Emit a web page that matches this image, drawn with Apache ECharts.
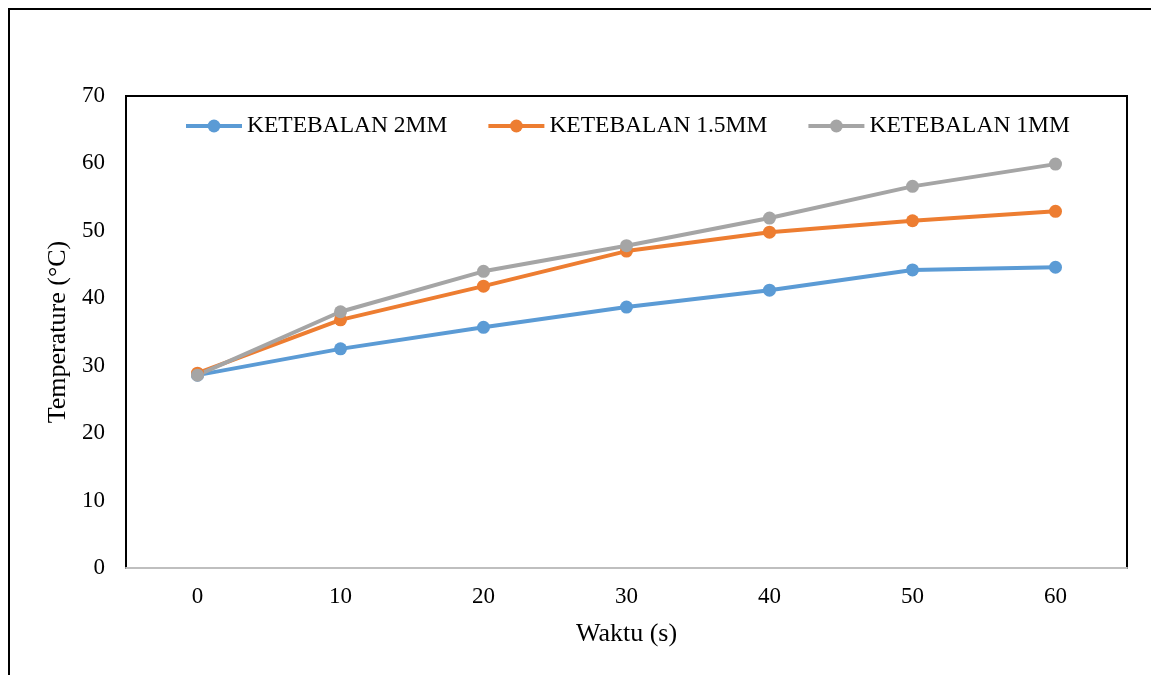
<!DOCTYPE html>
<html>
<head>
<meta charset="utf-8">
<script src="https://cdn.jsdelivr.net/npm/echarts@6/dist/echarts.min.js"></script>
<style>
html,body{margin:0;padding:0;background:#fff;}
#c{width:1151px;height:675px;}
</style>
</head>
<body>
<div id="c"></div>
<script>
var categories = ['0','10','20','30','40','50','60'];
var seriesNames = ['KETEBALAN 2MM','KETEBALAN 1.5MM','KETEBALAN 1MM'];
var tebal2mm = [28.6, 32.5, 35.7, 38.7, 41.2, 44.2, 44.6];
var tebal15mm = [28.9, 36.8, 41.8, 47.0, 49.8, 51.5, 52.9];
var tebal1mm = [28.6, 38.0, 44.0, 47.8, 51.9, 56.6, 59.9];
var yTicks = {min: 0, max: 70, interval: 10};

var colors = ['#5B9BD5', '#ED7D31', '#A5A5A5'];
var font = '"Liberation Serif", "Times New Roman", serif';

function mk(name, data, color) {
  return {
    name: name, type: 'line', data: data,
    symbol: 'circle', symbolSize: 13,
    lineStyle: {width: 4, color: color},
    itemStyle: {color: color},
    emphasis: {disabled: true},
    animation: false
  };
}

var chart = echarts.init(document.getElementById('c'), null, {renderer: 'canvas'});
chart.setOption({
  animation: false,
  color: colors,
  graphic: [{
    type: 'rect', shape: {x: 9, y: 9, width: 1160, height: 700},
    style: {fill: 'none', stroke: '#000', lineWidth: 2}, z: -10
  }],
  grid: {left: 126, top: 96, right: 24, bottom: 107, show: true, borderColor: '#000', borderWidth: 2, backgroundColor: 'transparent'},
  legend: {
    left: 184, top: 114, padding: 0, itemGap: 39, itemWidth: 56, itemHeight: 16,
    lineStyle: {width: 4},
    textStyle: {fontFamily: font, fontSize: 23.5, color: '#000', padding: [0, 0, 0, 0]},
    data: seriesNames
  },
  xAxis: {
    type: 'category', data: categories, boundaryGap: true,
    axisLine: {show: true, lineStyle: {color: '#BFBFBF', width: 2}},
    axisTick: {show: false},
    axisLabel: {fontFamily: font, fontSize: 23, color: '#000', margin: 17},
    name: 'Waktu (s)', nameLocation: 'middle', nameGap: 53,
    nameTextStyle: {fontFamily: font, fontSize: 26, color: '#000'},
    splitLine: {show: false}
  },
  yAxis: {
    type: 'value', min: yTicks.min, max: yTicks.max, interval: yTicks.interval,
    axisLine: {show: false}, axisTick: {show: false}, splitLine: {show: false},
    axisLabel: {fontFamily: font, fontSize: 23, color: '#000', margin: 21},
    name: 'Temperature (°C)', nameLocation: 'middle', nameGap: 51,
    nameTextStyle: {fontFamily: font, fontSize: 26, color: '#000'}
  },
  series: [
    mk(seriesNames[0], tebal2mm, colors[0]),
    mk(seriesNames[1], tebal15mm, colors[1]),
    mk(seriesNames[2], tebal1mm, colors[2])
  ]
});
</script>
</body>
</html>
